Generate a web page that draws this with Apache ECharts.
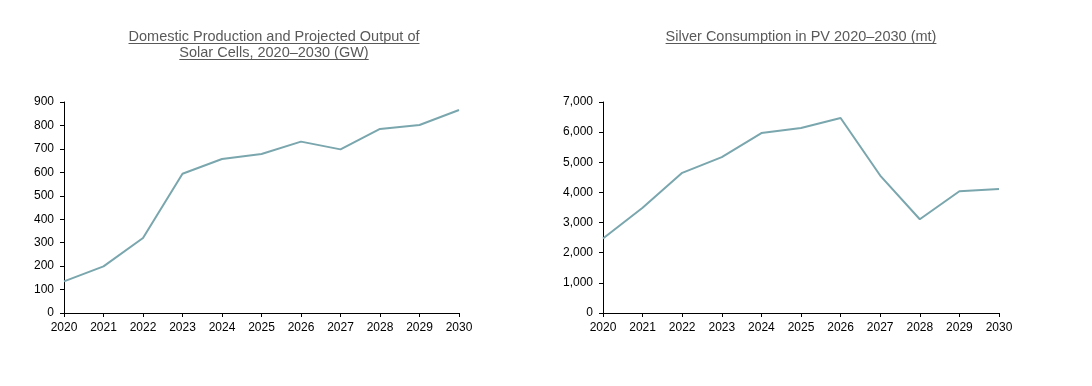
<!DOCTYPE html>
<html><head><meta charset="utf-8">
<script src="https://cdn.jsdelivr.net/npm/echarts@6/dist/echarts.min.js"></script>
<style>html,body{margin:0;padding:0;background:#fff}#c{width:1092px;height:386px}</style>
</head><body><div id="c"></div>
<script>
const years = ['2020','2021','2022','2023','2024','2025','2026','2027','2028','2029','2030'];
const cellOutput = [135, 199, 320, 594, 657, 678, 731, 698, 785, 802, 866];
const silverUse = [2470, 3490, 4650, 5170, 5970, 6135, 6470, 4560, 3110, 4040, 4110];
const leftTitleLines = ['Domestic Production and Projected Output of', 'Solar Cells, 2020\u20132030 (GW)'];
const rightTitleLines = ['Silver Consumption in PV 2020\u20132030 (mt)'];
const leftAxisRange = [0, 900, 100];
const rightAxisRange = [0, 7000, 1000];

const TITLE_FONT = '14.5px Arial, "Liberation Sans", sans-serif';
const TITLE_COLOR = '#595959';
const LINE_COLOR = '#7aa6ae';

const measure = (function(){
  const cv = document.createElement('canvas');
  const ctx = cv.getContext('2d');
  return function(t){ ctx.font = TITLE_FONT; return ctx.measureText(t).width; };
})();

function titleGraphics(lines, cx, y0, gap){
  const g = [];
  lines.forEach(function(t, i){
    const y = y0 + i*gap;
    g.push({type:'text', x: cx, y: y, style:{text:t, font:TITLE_FONT, fill:TITLE_COLOR, align:'center', verticalAlign:'middle'}});
    const w = measure(t);
    const uy = Math.round(y + 6) + 0.5;
    g.push({type:'line', shape:{x1: cx - w/2, y1: uy, x2: cx + w/2, y2: uy}, style:{stroke:TITLE_COLOR, lineWidth:1}});
  });
  return g;
}

function xAxis(gi){
  return {type:'category', gridIndex:gi, data:years, boundaryGap:false,
    axisLine:{lineStyle:{color:'#000', width:1}},
    axisTick:{show:true, length:4, inside:false, lineStyle:{color:'#000'}},
    axisLabel:{color:'#000', fontSize:12, fontFamily:'Arial', margin:9, interval:0}};
}
function yAxis(gi, r, fmt){
  return {type:'value', gridIndex:gi, min:r[0], max:r[1], interval:r[2],
    splitLine:{show:false},
    axisLine:{show:true, lineStyle:{color:'#000', width:1}},
    axisTick:{show:true, length:4, lineStyle:{color:'#000'}},
    axisLabel:{color:'#000', fontSize:12, fontFamily:'Arial', margin:10, formatter: fmt}};
}

const chart = echarts.init(document.getElementById('c'), null, {renderer:'canvas'});
chart.setOption({
  animation:false,
  backgroundColor:'#fff',
  grid:[
    {left:64, right:633, top:102, bottom:73},
    {left:603, right:93, top:102, bottom:73}
  ],
  xAxis:[xAxis(0), xAxis(1)],
  yAxis:[
    yAxis(0, leftAxisRange, function(v){return String(v);}),
    yAxis(1, rightAxisRange, function(v){return v.toLocaleString('en-US');})
  ],
  series:[
    {type:'line', xAxisIndex:0, yAxisIndex:0, data:cellOutput, showSymbol:false, lineStyle:{color:LINE_COLOR, width:2}, itemStyle:{color:LINE_COLOR}},
    {type:'line', xAxisIndex:1, yAxisIndex:1, data:silverUse, showSymbol:false, lineStyle:{color:LINE_COLOR, width:2}, itemStyle:{color:LINE_COLOR}}
  ],
  graphic: titleGraphics(leftTitleLines, 274, 36.5, 16.5).concat(titleGraphics(rightTitleLines, 801, 36.5, 16.5))
});
</script></body></html>
